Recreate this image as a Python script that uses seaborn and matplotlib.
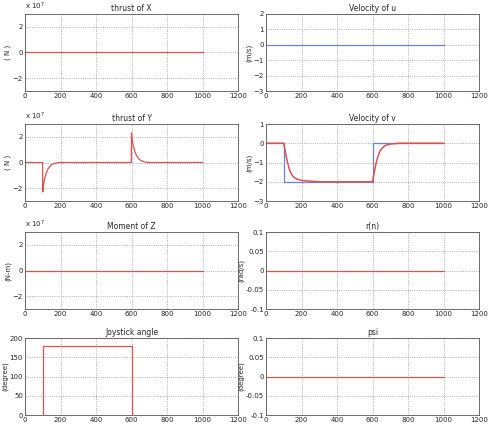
import matplotlib
matplotlib.use("Agg")
import matplotlib.pyplot as plt
import seaborn as sns

sns.set_style("white")
plt.rcParams['font.family'] = ['DejaVu Sans']

# time samples (s)
t_flat = [0, 1000]
zero_flat = [0, 0]

# thrust of Y (x1e7 N)
t_thrust_y = [0, 99, 100, 105, 110, 120, 130, 140, 150, 165, 180, 200, 599, 600, 605, 610, 620, 630, 640, 650, 665, 680, 700, 1000]
thrust_y = [0, 0, -2.3, -1.7, -1.3, -0.8, -0.5, -0.3, -0.18, -0.08, -0.03, 0, 0, 2.3, 1.7, 1.3, 0.8, 0.5, 0.3, 0.18, 0.08, 0.03, 0, 0]

# velocity of v (m/s): command and response
t_v_cmd = [0, 100, 100, 600, 600, 1000]
v_cmd = [0, 0, -2, -2, 0, 0]
t_v_resp = [0, 100, 110, 120, 130, 140, 150, 170, 200, 250, 300, 600, 610, 620, 630, 640, 650, 670, 700, 750, 1000]
v_resp = [0, 0, -0.5, -0.95, -1.3, -1.55, -1.7, -1.85, -1.93, -1.97, -2, -2, -1.5, -1.05, -0.7, -0.45, -0.3, -0.12, -0.04, 0, 0]

# joystick angle (degree)
t_joy = [100, 100, 600, 600]
joy = [0, 180, 180, 0]

RED = "#d9534f"
BLUE = "#6f7fd8"

fig = plt.figure(figsize=(5.01, 4.36), dpi=100)
W, H = 501, 436
lefts = [25, 266]
tops = [14, 124, 232, 338]
aw, ah = 213, 77


def make_ax(col, row):
    ax = fig.add_axes([lefts[col] / W, 1 - (tops[row] + ah) / H, aw / W, ah / H])
    ax.set_xlim(0, 1200)
    ax.set_xticks(range(0, 1201, 200))
    ax.grid(True, linestyle=":", color="#999999", linewidth=0.6)
    ax.tick_params(labelsize=5, length=2, pad=1.5, direction="in")
    for s in ax.spines.values():
        s.set_color("#555555")
        s.set_linewidth(0.6)
    return ax


def finish(ax, title, ylabel, exp=False):
    ax.set_title(title, fontsize=5.5, pad=2)
    ax.set_ylabel(ylabel, fontsize=5, labelpad=1)
    if exp:
        ax.text(0, 1.02, r"x 10$^7$", transform=ax.transAxes, fontsize=5, va="bottom")


ax = make_ax(0, 0)
sns.lineplot(x=t_flat, y=zero_flat, ax=ax, color=RED, linewidth=0.9)
ax.set_ylim(-3, 3); ax.set_yticks([-2, 0, 2])
finish(ax, "thrust of X", "( N )", True)

ax = make_ax(1, 0)
sns.lineplot(x=t_flat, y=zero_flat, ax=ax, color=BLUE, linewidth=0.9)
ax.set_ylim(-3, 2); ax.set_yticks([-3, -2, -1, 0, 1, 2])
finish(ax, "Velocity of u", "(m/s)")

ax = make_ax(0, 1)
sns.lineplot(x=t_thrust_y, y=thrust_y, ax=ax, color=RED, linewidth=0.9, estimator=None, sort=False)
ax.set_ylim(-3, 3); ax.set_yticks([-2, 0, 2])
finish(ax, "thrust of Y", "( N )", True)

ax = make_ax(1, 1)
sns.lineplot(x=t_v_cmd, y=v_cmd, ax=ax, color=BLUE, linewidth=0.9, estimator=None, sort=False)
sns.lineplot(x=t_v_resp, y=v_resp, ax=ax, color=RED, linewidth=1.1, estimator=None, sort=False)
ax.set_ylim(-3, 1); ax.set_yticks([-3, -2, -1, 0, 1])
finish(ax, "Velocity of v", "(m/s)")

ax = make_ax(0, 2)
sns.lineplot(x=t_flat, y=zero_flat, ax=ax, color=RED, linewidth=0.9)
ax.set_ylim(-3, 3); ax.set_yticks([-2, 0, 2])
finish(ax, "Moment of Z", "(N-m)", True)

ax = make_ax(1, 2)
sns.lineplot(x=t_flat, y=zero_flat, ax=ax, color=RED, linewidth=0.9)
ax.set_ylim(-0.1, 0.1); ax.set_yticks([-0.1, -0.05, 0, 0.05, 0.1])
ax.set_yticklabels(["-0.1", "-0.05", "0", "0.05", "0.1"])
finish(ax, "r(n)", "(rad/s)")

ax = make_ax(0, 3)
sns.lineplot(x=t_joy, y=joy, ax=ax, color=RED, linewidth=0.9, estimator=None, sort=False)
ax.set_ylim(0, 200); ax.set_yticks([0, 50, 100, 150, 200])
finish(ax, "Joystick angle", "(degree)")

ax = make_ax(1, 3)
sns.lineplot(x=t_flat, y=zero_flat, ax=ax, color=RED, linewidth=0.9)
ax.set_ylim(-0.1, 0.1); ax.set_yticks([-0.1, -0.05, 0, 0.05, 0.1])
ax.set_yticklabels(["-0.1", "-0.05", "0", "0.05", "0.1"])
finish(ax, "psi", "(degree)")

fig.savefig("out.png", dpi=100)
